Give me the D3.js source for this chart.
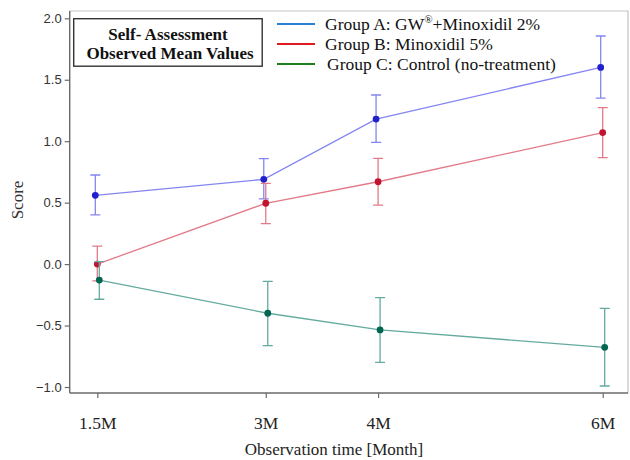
<!DOCTYPE html>
<html>
<head>
<meta charset="utf-8">
<script src="https://cdn.jsdelivr.net/npm/d3@7"></script>
<style>
  body { margin: 0; background: #fff; }
  svg { display: block; }
</style>
</head>
<body>
<svg width="630" height="460"></svg>
<script>
'use strict';

// observation months and their labels
var months = [1.5, 3, 4, 6];
var tickLabels = ['1.5M', '3M', '4M', '6M'];
var yTicks = [-1.0, -0.5, 0.0, 0.5, 1.0, 1.5, 2.0];

var groupNames = ['Group A: GW', 'Group B: Minoxidil 5%', 'Group C: Control (no-treatment)'];

// mean scores with lower / upper error bar ends
var meanA = [0.56, 0.69, 1.18, 1.60];
var lowA = [0.40, 0.53, 0.99, 1.35];
var highA = [0.725, 0.858, 1.376, 1.856];

var meanB = [0.0, 0.495, 0.67, 1.07];
var lowB = [-0.137, 0.33, 0.48, 0.866];
var highB = [0.147, 0.657, 0.86, 1.273];

var meanC = [-0.13, -0.40, -0.536, -0.677];
var lowC = [-0.286, -0.664, -0.80, -0.992];
var highC = [0.02, -0.14, -0.273, -0.36];

var svg = d3.select('svg');

var x = d3.scaleLinear().domain([1.5, 6]).range([97.3, 602.7]);
var y = d3.scaleLinear().domain([-1, 2]).range([387, 18.3]);

var plotLeft = 69.7, plotRight = 628, plotTop = 11, plotBottom = 393;

var groups = [
    { mean: meanA, low: lowA, high: highA, dx: -2, line: '#8585f2', dot: '#2020cc', key: '#2a7fd4' },
    { mean: meanB, low: lowB, high: highB, dx: 0, line: '#e27a88', dot: '#c2142e', key: '#e01a22' },
    { mean: meanC, low: lowC, high: highC, dx: 2, line: '#64ab9f', dot: '#006652', key: '#1e7d1e' }
];

//frame
svg.append('path')
    .attr('d', 'M' + plotLeft + ',' + plotTop + 'H' + plotRight + 'V' + plotBottom)
    .attr('fill', 'none')
    .attr('stroke', '#c4c4c4')
    .attr('stroke-width', 1.2);

//axis y
var axisY = d3.axisLeft(y)
    .tickValues(yTicks)
    .tickFormat(d3.format('.1f'))
    .tickSize(5)
    .tickSizeOuter(0);

var gY = svg.append('g')
    .attr('transform', 'translate(' + plotLeft + ',0)')
    .call(axisY);
gY.select('.domain').attr('d', 'M0,' + plotTop + 'V' + plotBottom);

//axis x
var axisX = d3.axisBottom(x)
    .tickValues(months)
    .tickFormat(function(d, i) { return tickLabels[i]; })
    .tickSize(5)
    .tickPadding(19)
    .tickSizeOuter(0);

var gX = svg.append('g')
    .attr('transform', 'translate(0,' + plotBottom + ')')
    .call(axisX);
gX.select('.domain').attr('d', 'M' + plotLeft + ',0H' + plotRight);

[gX, gY].forEach(function(g) {
    g.selectAll('.domain').attr('stroke', '#6a6a6a').attr('stroke-width', 1.4);
    g.selectAll('.tick line').attr('stroke', '#6a6a6a').attr('stroke-width', 1.2);
});

gY.selectAll('.tick text')
    .attr('font-family', 'Liberation Sans, Arial, sans-serif')
    .attr('font-size', 13)
    .attr('fill', '#333')
    .attr('x', -8);

gX.selectAll('.tick text')
    .attr('font-family', 'Liberation Serif, serif')
    .attr('font-size', 17.5)
    .attr('fill', '#222');

//axis titles
svg.append('text')
    .attr('transform', 'translate(23,200) rotate(-90)')
    .attr('text-anchor', 'middle')
    .attr('font-family', 'Liberation Serif, serif')
    .attr('font-size', 17)
    .attr('fill', '#333')
    .text('Score');

svg.append('text')
    .attr('x', 334)
    .attr('y', 455)
    .attr('text-anchor', 'middle')
    .attr('font-family', 'Liberation Serif, serif')
    .attr('font-size', 17)
    .attr('fill', '#222')
    .text('Observation time [Month]');

//data
var line = d3.line()
    .x(function(d) { return d.px; })
    .y(function(d) { return y(d.v); });

groups.forEach(function(grp) {
    var pts = months.map(function(m, i) {
        return { px: x(m) + grp.dx, v: grp.mean[i], lo: grp.low[i], hi: grp.high[i] };
    });
    var g = svg.append('g');

    g.append('path')
        .datum(pts)
        .attr('fill', 'none')
        .attr('stroke', grp.line)
        .attr('stroke-width', 1.3)
        .attr('d', line);

    g.selectAll('.err')
        .data(pts)
        .enter()
        .append('path')
        .attr('class', 'err')
        .attr('fill', 'none')
        .attr('stroke', grp.line)
        .attr('stroke-width', 1.3)
        .attr('d', function(d) {
            var t = y(d.hi), b = y(d.lo);
            return 'M' + (d.px - 5) + ',' + t + 'H' + (d.px + 5) +
                'M' + d.px + ',' + t + 'V' + b +
                'M' + (d.px - 5) + ',' + b + 'H' + (d.px + 5);
        });

    g.selectAll('circle')
        .data(pts)
        .enter()
        .append('circle')
        .attr('cx', function(d) { return d.px; })
        .attr('cy', function(d) { return y(d.v); })
        .attr('r', 3.4)
        .attr('fill', grp.dot);
});

//title box
svg.append('rect')
    .attr('x', 73.7)
    .attr('y', 18.7)
    .attr('width', 188.5)
    .attr('height', 47.5)
    .attr('fill', '#fff')
    .attr('stroke', '#333')
    .attr('stroke-width', 1.4);

svg.append('text')
    .attr('x', 168)
    .attr('y', 40)
    .attr('text-anchor', 'middle')
    .attr('font-family', 'Liberation Serif, serif')
    .attr('font-weight', 'bold')
    .attr('font-size', 17)
    .attr('fill', '#111')
    .text('Self- Assessment');

svg.append('text')
    .attr('x', 170)
    .attr('y', 59)
    .attr('text-anchor', 'middle')
    .attr('font-family', 'Liberation Serif, serif')
    .attr('font-weight', 'bold')
    .attr('font-size', 17)
    .attr('fill', '#111')
    .text('Observed Mean Values');

//legend
var legend = svg.append('g');
groupNames.forEach(function(name, i) {
    var ly = 24 + i * 20;
    legend.append('line')
        .attr('x1', 277)
        .attr('x2', 315)
        .attr('y1', ly)
        .attr('y2', ly)
        .attr('stroke', groups[i].key)
        .attr('stroke-width', 2.2);
    var t = legend.append('text')
        .attr('x', i === 2 ? 327 : 325)
        .attr('y', ly + 5.5)
        .attr('font-family', 'Liberation Serif, serif')
        .attr('font-size', 17.5)
        .attr('fill', '#111')
        .text(name);
    if (i === 0) {
        t.append('tspan')
            .attr('dy', -7)
            .attr('font-size', 11)
            .text('\u00AE');
        t.append('tspan')
            .attr('dy', 7)
            .text('+Minoxidil 2%');
    }
});
</script>
</body>
</html>
